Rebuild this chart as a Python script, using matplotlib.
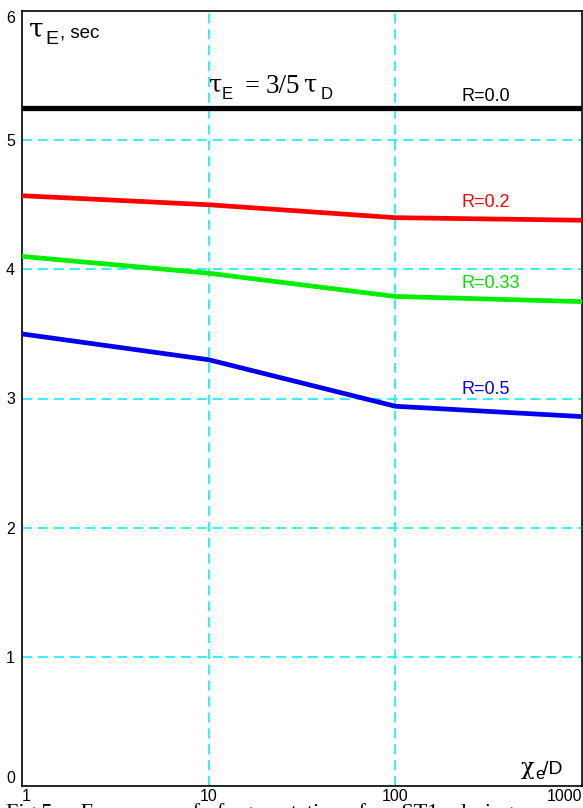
import matplotlib
matplotlib.use("Agg")
import matplotlib.pyplot as plt

x_vals = [1, 10, 100, 1000]
r00 = [5.25, 5.25, 5.25, 5.25]
r02 = [4.57, 4.50, 4.40, 4.38]
r033 = [4.10, 3.97, 3.79, 3.75]
r05 = [3.50, 3.30, 2.94, 2.86]
series_labels = ["R=0.0", "R=0.2", "R=0.33", "R=0.5"]
x_ticks = [1, 10, 100, 1000]
x_ticklabels = ["1", "10", "100", "1000"]
y_ticks = [0, 1, 2, 3, 4, 5, 6]

plt.rcParams['font.family'] = ['Liberation Sans', 'DejaVu Sans']

W, H = 583, 808
fig = plt.figure(figsize=(W/100, H/100), dpi=100)
ax = fig.add_axes([22/W, 22/H, 560/W, 775/H])
ax.set_xscale('log')
ax.set_xlim(1, 1000)
ax.set_ylim(0, 6)

grid_c = '#22eeff'
for yv in [1, 2, 3, 4, 5]:
    ax.axhline(yv, color=grid_c, lw=1.3, ls=(0, (5.5, 3.3)), zorder=1)
for xv in [10, 100]:
    ax.axvline(xv, color=grid_c, lw=1.3, ls=(0, (5.5, 3.3)), zorder=1)

ax.plot(x_vals, r00, color='black', lw=3.8, zorder=3, solid_capstyle='butt')
ax.plot(x_vals, r02, color='#ff0000', lw=3.4, zorder=3)
ax.plot(x_vals, r033, color='#00ee00', lw=3.4, zorder=3)
ax.plot(x_vals, r05, color='#0000ee', lw=3.4, zorder=3)

lab_y = [5.30, 4.48, 3.855, 3.035]
lab_c = ['black', '#ff0000', '#00dd00', '#0000ee']
for lbl, yy, c in zip(series_labels, lab_y, lab_c):
    ax.text(225, yy, lbl, color=c, fontsize=13, ha='left', va='baseline', zorder=4)

ax.set_xticks(x_ticks)
ax.set_xticklabels(x_ticklabels)
ax.xaxis.set_minor_locator(matplotlib.ticker.NullLocator())
ax.set_yticks(y_ticks)
ax.set_yticklabels([str(v) for v in y_ticks])
ax.tick_params(axis='both', length=0, labelsize=11.5)
ax.tick_params(axis='y', pad=5)
ax.tick_params(axis='x', pad=2)
xl = ax.get_xticklabels()
xl[0].set_horizontalalignment('left')
xl[-1].set_horizontalalignment('right')
yl = ax.get_yticklabels()
yl[0].set_verticalalignment('bottom')
yl[-1].set_verticalalignment('top')

for s in ax.spines.values():
    s.set_linewidth(1.2)
    s.set_color('black')

def px(x, y):
    return (x / W, 1 - y / H)

SERIF = 'Liberation Serif'
GREEK = 'DejaVu Serif'
SANS = 'Liberation Sans'

# axis title top-left
fig.text(*px(29, 37), 'τ', fontsize=19, family=GREEK, ha='left', va='baseline')
fig.text(*px(45, 44), 'E', fontsize=14, family=SANS, ha='left', va='baseline')
fig.text(*px(60, 38), ', sec', fontsize=13.5, family=SANS, ha='left', va='baseline')

# formula
fig.text(*px(209, 92), 'τ', fontsize=17, family=GREEK, ha='left', va='baseline')
fig.text(*px(222, 99), 'E', fontsize=12, family=SANS, ha='left', va='baseline')
fig.text(*px(245, 92), '=', fontsize=19, family=SERIF, ha='left', va='baseline')
fig.text(*px(266, 93), '3/5', fontsize=19.5, family=SERIF, ha='left', va='baseline')
fig.text(*px(304, 92), 'τ', fontsize=17, family=GREEK, ha='left', va='baseline')
fig.text(*px(321, 99), 'D', fontsize=12, family=SANS, ha='left', va='baseline')

# x axis title
fig.text(*px(521, 774), 'χ', fontsize=16, family=GREEK, ha='left', va='baseline')
fig.text(*px(535, 779), 'e', fontsize=12, family=SANS, ha='left', va='baseline')
fig.text(*px(543, 774), '/D', fontsize=14, family=SANS, ha='left', va='baseline')

fig.text(*px(6, 803), 'Fig.5.    Exposure   of   fragmentation   for   ST1   during',
         fontsize=16, ha='left', va='top', family=SERIF)

fig.savefig('out.png', dpi=100)
